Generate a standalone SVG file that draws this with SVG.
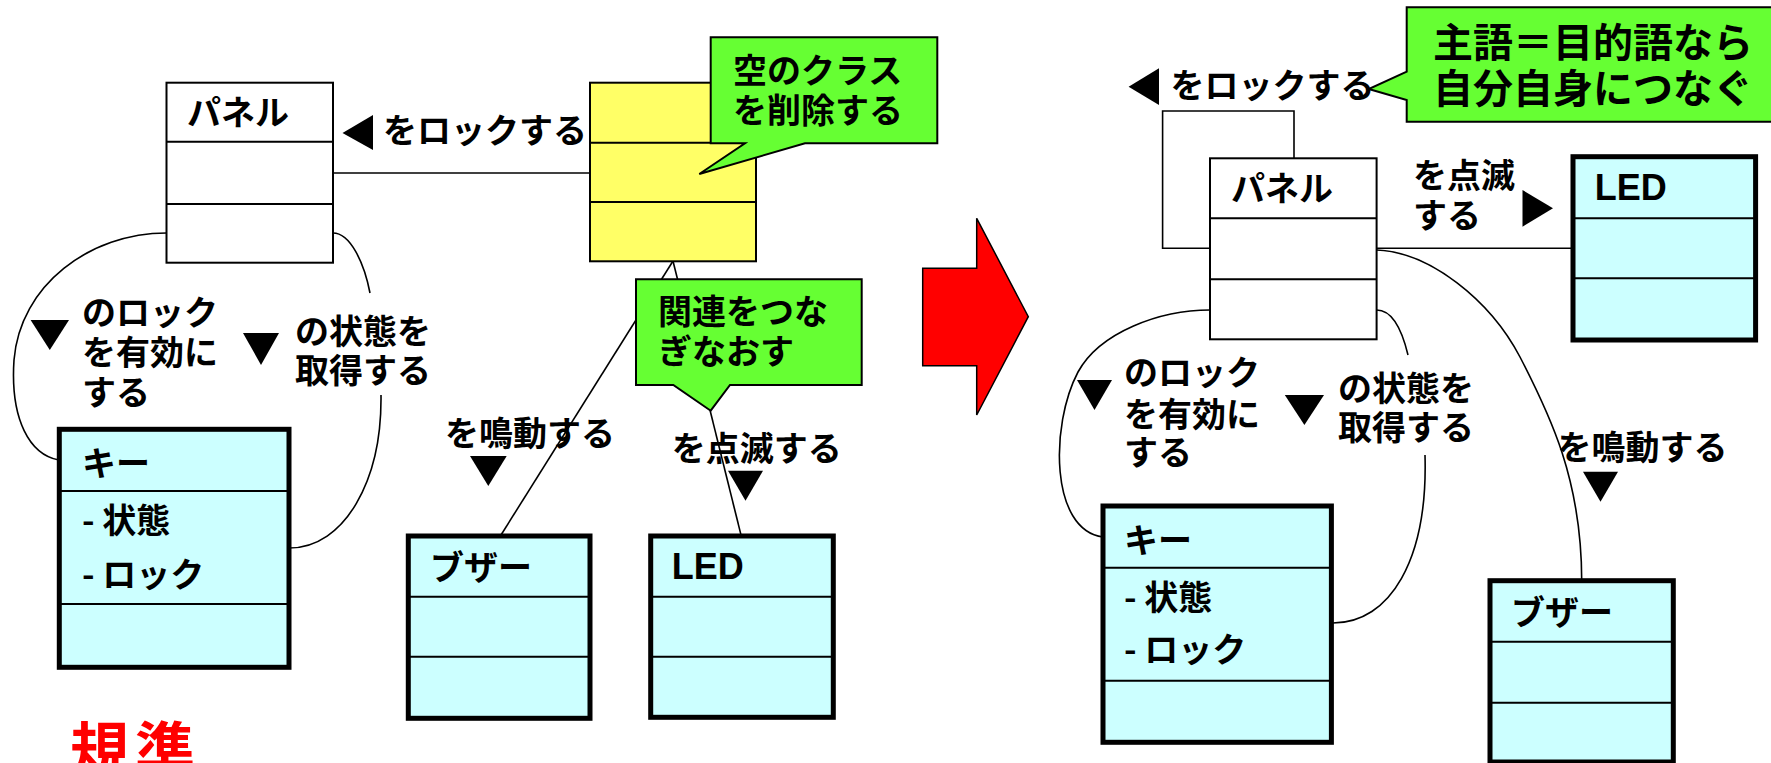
<svg xmlns="http://www.w3.org/2000/svg" width="1771" height="763" viewBox="0 0 1771 763">
<style>
text{font-family:"Noto Sans CJK JP","Liberation Sans",sans-serif;font-weight:bold;font-size:34px;fill:#000}
.lat{font-family:"Liberation Sans","Noto Sans CJK JP",sans-serif;font-size:36px}
.big{font-size:40px}
.red{fill:#FF0000;font-size:60px;letter-spacing:5px}
.box{stroke:#000;stroke-width:2;fill:#fff}
.yel{stroke:#000;stroke-width:2;fill:#FFFF66}
.cyan{stroke:#000;stroke-width:5;fill:#CCFFFF}
.div{stroke:#000;stroke-width:2;fill:none}
.con{stroke:#000;stroke-width:1.6;fill:none}
.call{stroke:#000;stroke-width:2;fill:#66FF33}
.tri{fill:#000}
</style>
<rect width="1771" height="763" fill="#fff"/>

<g id="connectors">
<path class="con" d="M333,173 H590"/>
<path class="con" d="M673,261 L501,535"/>
<path class="con" d="M673,261 L741,535"/>
<path class="con" d="M166.5,233 C90,233 20,285 14,360 C10,420 30,455 59,460"/>
<path class="con" d="M333,233 C350,233 364,262 370,293"/>
<path class="con" d="M381,395 C382,480 345,548 289,548"/>
<path class="con" d="M1294,158.3 V111 H1162.6 V248.3 H1210"/>
<path class="con" d="M1376.6,248.3 H1573"/>
<path class="con" d="M1376.6,250 C1430,252 1490,300 1520,357 C1550,415 1581.7,480 1581.7,580.7"/>
<path class="con" d="M1210,310 C1160,310 1100,332 1078,372 C1050,425 1050,530 1103,537"/>
<path class="con" d="M1376.6,310 C1392,310 1402,330 1408,355"/>
<path class="con" d="M1425,455 C1428,560 1390,623 1333,623"/>
</g>

<g id="panel-left">
<rect class="box" x="166.5" y="82.7" width="166.5" height="180"/>
<path class="div" d="M166.5,141.7 H333 M166.5,204 H333"/>
<text x="187" y="125">パネル</text>
</g>

<g id="empty-class">
<rect class="yel" x="590" y="82.7" width="166" height="178.6"/>
<path class="div" d="M590,142.7 H756 M590,202 H756"/>
</g>

<g id="key-left">
<rect class="cyan" x="59.3" y="429.3" width="229.7" height="238"/>
<path class="div" d="M59.3,491 H289 M59.3,604 H289"/>
<text x="82" y="476">キー</text>
<text x="82" y="533">- 状態</text>
<text x="82" y="587">- ロック</text>
</g>

<g id="buzzer-left">
<rect class="cyan" x="408.3" y="536" width="181.7" height="182.3"/>
<path class="div" d="M408.3,596.7 H590 M408.3,656.7 H590"/>
<text x="430" y="580">ブザー</text>
</g>

<g id="led-left">
<rect class="cyan" x="650.7" y="536" width="182.6" height="181.3"/>
<path class="div" d="M650.7,596.7 H833.3 M650.7,656.7 H833.3"/>
<text class="lat" x="671.7" y="579">LED</text>
</g>

<g id="labels-left">
<polygon class="tri" points="342.5,133 373,115 373,150"/>
<text x="383" y="143">をロックする</text>
<polygon class="tri" points="30.6,320 69,320 49.8,350"/>
<text x="82" y="325">のロック</text>
<text x="82" y="365">を有効に</text>
<text x="82" y="405">する</text>
<polygon class="tri" points="243,333 279,333 261,365"/>
<text x="295" y="344">の状態を</text>
<text x="295" y="383">取得する</text>
<text x="445" y="446">を鳴動する</text>
<polygon class="tri" points="470,456 506.7,456 488.3,486"/>
<text x="671.7" y="461">を点滅する</text>
<polygon class="tri" points="728,470.7 763,470.7 745.5,500.7"/>
</g>

<g id="callout-delete">
<path class="call" d="M710.7,37.3 H937.3 V143.3 H805 L699.3,174 L745,143.3 H710.7 Z"/>
<text x="733" y="83">空のクラス</text>
<text x="733" y="123">を削除する</text>
</g>

<g id="callout-reconnect">
<path class="call" d="M636,279.3 H861.7 V385 H730 L710.7,410.7 L673.3,385 H636 Z"/>
<text x="658" y="324">関連をつな</text>
<text x="658" y="364">ぎなおす</text>
</g>

<g id="standard-label">
<text class="red" x="70" y="772">規準</text>
</g>

<g id="red-arrow">
<polygon points="922.7,268.3 976.7,268.3 976.7,218.3 1028.3,316.7 976.7,415 976.7,365.7 922.7,365.7" fill="#FF0000" stroke="#000" stroke-width="1.5"/>
</g>

<g id="panel-right">
<rect class="box" x="1210" y="158.3" width="166.6" height="181"/>
<path class="div" d="M1210,218.3 H1376.6 M1210,279.3 H1376.6"/>
<text x="1231" y="201">パネル</text>
</g>

<g id="led-right">
<rect class="cyan" x="1573" y="156.7" width="182.6" height="183.3"/>
<path class="div" d="M1573,218.3 H1755.6 M1573,278.3 H1755.6"/>
<text class="lat" x="1594.8" y="200">LED</text>
</g>

<g id="key-right">
<rect class="cyan" x="1103" y="506" width="228.4" height="236.3"/>
<path class="div" d="M1103,567.7 H1331.4 M1103,680.7 H1331.4"/>
<text x="1124" y="553">キー</text>
<text x="1124" y="610">- 状態</text>
<text x="1124" y="662">- ロック</text>
</g>

<g id="buzzer-right">
<rect class="cyan" x="1490" y="580.7" width="183.3" height="181.3"/>
<path class="div" d="M1490,641.7 H1673.3 M1490,702.7 H1673.3"/>
<text x="1511" y="625">ブザー</text>
</g>

<g id="labels-right">
<polygon class="tri" points="1128.6,86.7 1159,68.3 1159,105"/>
<text x="1170.5" y="98">をロックする</text>
<text x="1413" y="188">を点滅</text>
<text x="1413" y="228">する</text>
<polygon class="tri" points="1522.5,190 1553,208.3 1522.5,226.7"/>
<polygon class="tri" points="1077,380 1112,380 1094.5,410"/>
<text x="1124" y="385">のロック</text>
<text x="1124" y="427">を有効に</text>
<text x="1124" y="465">する</text>
<polygon class="tri" points="1284.8,395 1324,395 1304.4,425"/>
<text x="1338" y="401">の状態を</text>
<text x="1338" y="440">取得する</text>
<text x="1557.5" y="460">を鳴動する</text>
<polygon class="tri" points="1583,471.7 1618,471.7 1600.5,501.7"/>
</g>

<g id="callout-self">
<path class="call" d="M1406.7,7.3 H1780 V121.7 H1406.7 V100 L1368.7,89 L1406.7,71.7 Z"/>
<text class="big" x="1433" y="57">主語＝目的語なら</text>
<text class="big" x="1433" y="103">自分自身につなぐ</text>
</g>
</svg>
